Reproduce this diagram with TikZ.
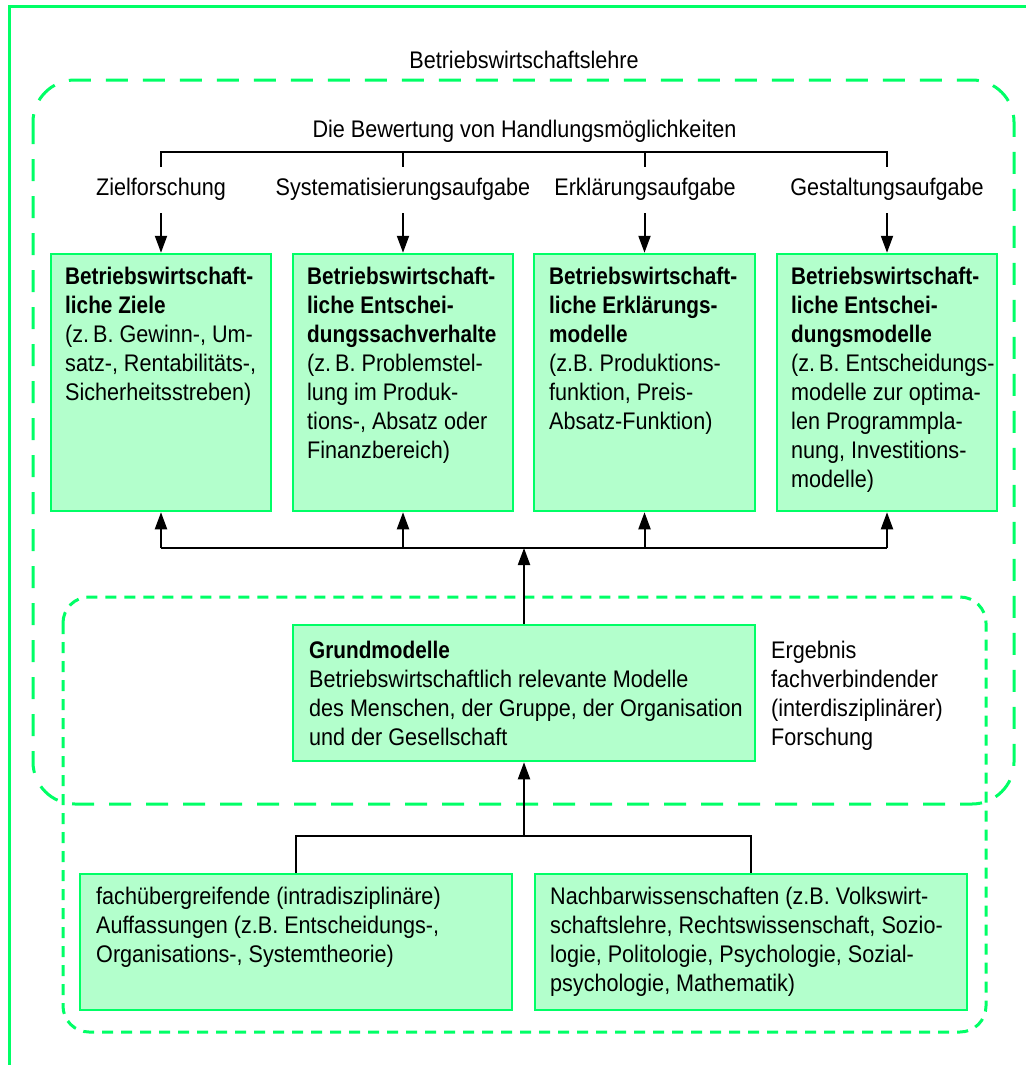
\documentclass[tikz,border=0pt]{standalone}
\usepackage{fontspec}
\setmainfont{Liberation Sans}[FakeStretch=0.9]
\newfontfamily\headfont{Liberation Sans}[FakeStretch=0.865]
\newcommand\hd{\headfont\bfseries}
\usetikzlibrary{arrows.meta}
\definecolor{gline}{RGB}{0,255,102}
\definecolor{gfill}{RGB}{179,255,204}
\begin{document}
\begin{tikzpicture}[x=1pt,y=-1pt,
  frame/.style={draw=gline, line width=3pt},
  zone/.style={draw=gline, line width=3pt, dash pattern=on 22pt off 15pt},
  subzone/.style={draw=gline, line width=3pt, dash pattern=on 11pt off 8pt},
  box/.style={draw=gline, fill=gfill, line width=2.5pt, inner sep=0pt},
  txt/.style={inner sep=0pt, align=left, anchor=north west, font=\fontsize{24}{29}\selectfont},
  lbl/.style={inner sep=0pt, anchor=base, font=\fontsize{24}{29}\selectfont},
  link/.style={draw=black, line width=2pt},
  arr/.style={link, -{Triangle[length=17pt,width=12pt]}}]
\useasboundingbox (0,0) rectangle (1026,1065);

% outer frame (top and left edges)
\draw[frame] (9,1065) -- (9,7) -- (1026,7);

% dashed zones
\draw[zone, rounded corners=42pt] (33,80) rectangle (1014,804);
\draw[subzone, rounded corners=26pt] (63,597) rectangle (986,1032);

% headings
\node[lbl] (title) at (524,68) {Betriebswirtschaftslehre};
\node[lbl] (bew) at (524.5,137) {Die Bewertung von Handlungsmöglichkeiten};
\node[lbl] (l1) at (161,195) {Zielforschung};
\node[lbl] (l2) at (403,195) {Systematisierungsaufgabe};
\node[lbl] (l3) at (645,195) {Erklärungsaufgabe};
\node[lbl] (l4) at (887,195) {Gestaltungsaufgabe};

% upper boxes
\node[box, minimum width=220pt, minimum height=257pt] (b1) at (161,382.5) {};
\node[box, minimum width=220pt, minimum height=257pt] (b2) at (403,382.5) {};
\node[box, minimum width=221pt, minimum height=257pt] (b3) at (644.5,382.5) {};
\node[box, minimum width=220pt, minimum height=257pt] (b4) at (887,382.5) {};

\node[txt] (t1) at (65,267) {{\hd Betriebswirtschaft-}\\{\hd liche Ziele}\\(z.\,B. Gewinn-, Um-\\satz-, Rentabilitäts-,\\Sicherheitsstreben)};
\node[txt] (t2) at (307,267) {{\hd Betriebswirtschaft-}\\{\hd liche Entschei-}\\{\hd dungssachverhalte}\\(z.\,B. Problemstel-\\lung im Produk-\\tions-, Absatz oder\\Finanzbereich)};
\node[txt] (t3) at (549,267) {{\hd Betriebswirtschaft-}\\{\hd liche Erklärungs-}\\{\hd modelle}\\(z.B. Produktions-\\funktion, Preis-\\Absatz-Funktion)};
\node[txt] (t4) at (791,267) {{\hd Betriebswirtschaft-}\\{\hd liche Entschei-}\\{\hd dungsmodelle}\\(z.\,B. Entscheidungs-\\modelle zur optima-\\len Programmpla-\\nung, Investitions-\\modelle)};

% basic models
\node[box, minimum width=462pt, minimum height=136pt] (grund) at (524,693) {};
\node[txt] (tg) at (309,641) {{\hd Grundmodelle}\\Betriebswirtschaftlich relevante Modelle\\des Menschen, der Gruppe, der Organisation\\und der Gesellschaft};
\node[txt] (erg) at (771,641) {Ergebnis\\fachverbindender\\(interdisziplinärer)\\Forschung};

% source disciplines
\node[box, minimum width=432pt, minimum height=136pt] (f1) at (296,942) {};
\node[box, minimum width=432pt, minimum height=136pt] (f2) at (751,942) {};
\node[txt] (tf1) at (96,887) {fachübergreifende (intradisziplinäre)\\Auffassungen (z.B. Entscheidungs-,\\Organisations-, Systemtheorie)};
\node[txt] (tf2) at (550,887) {Nachbarwissenschaften (z.B. Volkswirt-\\schaftslehre, Rechtswissenschaft, Sozio-\\logie, Politologie, Psychologie, Sozial-\\psychologie, Mathematik)};

% bracket below the evaluation heading
\coordinate (bw) at (524,152);
\draw[link] (b1.north |- 0,167) -- (b1.north |- bw) -- (b4.north |- bw) -- (b4.north |- 0,167);
\draw[link] (b2.north |- bw) -- (b2.north |- 0,167);
\draw[link] (b3.north |- bw) -- (b3.north |- 0,167);

% task arrows into the boxes
\draw[arr] ([yshift=-13pt]b1.north |- l1.south) -- (b1.north);
\draw[arr] ([yshift=-13pt]b2.north |- l2.south) -- (b2.north);
\draw[arr] ([yshift=-13pt]b3.north |- l3.south) -- (b3.north);
\draw[arr] ([yshift=-13pt]b4.north |- l4.south) -- (b4.north);

% bus from the basic models up to the four boxes
\coordinate (mb) at (524,548);
\draw[link] (b1.south |- mb) -- (b4.south |- mb);
\draw[arr] (b1.south |- mb) -- (b1.south);
\draw[arr] (b2.south |- mb) -- (b2.south);
\draw[arr] (b3.south |- mb) -- (b3.south);
\draw[arr] (b4.south |- mb) -- (b4.south);
\draw[arr] (grund.north) -- (grund.north |- mb);

% bus from the disciplines up to the basic models
\coordinate (lb) at (524,836);
\draw[arr] (grund.south |- lb) -- (grund.south);
\draw[link] (f1.north) -- (f1.north |- lb) -- (f2.north |- lb) -- (f2.north);
\end{tikzpicture}
\end{document}
